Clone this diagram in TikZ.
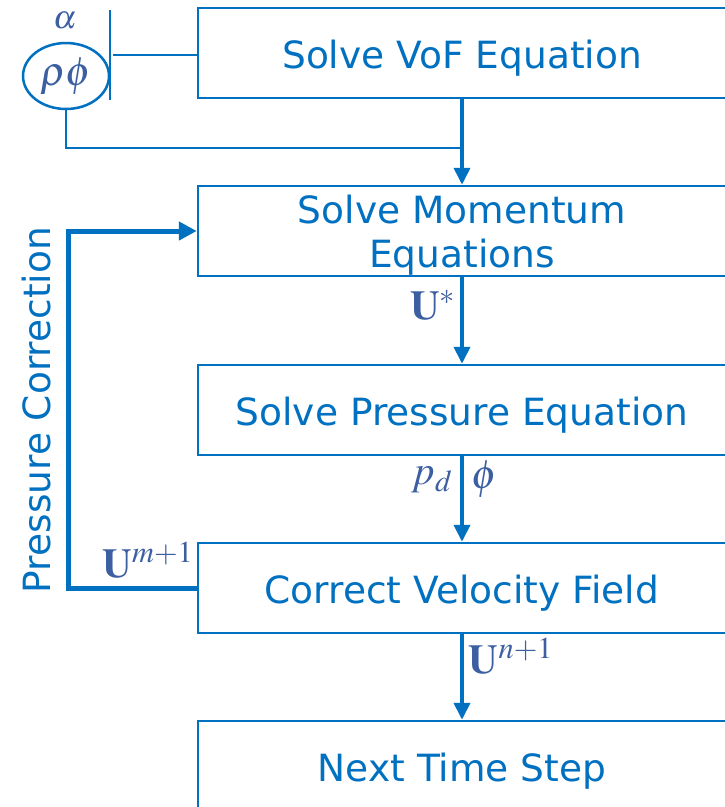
\documentclass[tikz,border=0pt]{standalone}
\usepackage{mathptmx}
\usepackage[no-math]{fontspec}
\setmainfont{DejaVu Sans}
\usetikzlibrary{arrows.meta,shapes.geometric}
\definecolor{boxblue}{HTML}{0070C0}
\definecolor{mathblue}{HTML}{3C5FA2}
\begin{document}
\begin{tikzpicture}[x=1pt,y=-1pt,
  stepbox/.style={draw=boxblue,line width=2.5pt,rectangle,minimum width=528pt,minimum height=90pt,inner sep=0pt},
  steptext/.style={text=boxblue,font=\fontsize{37.5}{44}\selectfont,align=center,inner sep=0pt},
  mlabel/.style={text=mathblue,font=\fontsize{41}{48}\selectfont,inner sep=0pt},
  arr/.style={draw=boxblue,line width=3.8pt,-{Triangle[width=16pt,length=17pt]}},
  thin/.style={draw=boxblue,line width=2.5pt},
  fbline/.style={draw=boxblue,line width=5pt,-{Triangle[width=18pt,length=18pt]}}]
\clip (0,0) rectangle (725,807);
\fill[white] (0,0) rectangle (725,807);
% boxes
\node[stepbox] (b1) at (462,53) {};
\node[stepbox] (b2) at (462,231) {};
\node[stepbox] (b3) at (462,410) {};
\node[stepbox] (b4) at (462,588) {};
\node[stepbox] (b5) at (462,766) {};
\node[steptext] (t1) at ([yshift=-5pt]b1.center) {Solve VoF Equation};
\node[steptext] (t2) at ([yshift=-4pt]b2.center) {Solve Momentum\\Equations};
\node[steptext] (t3) at ([yshift=-5pt]b3.center) {Solve Pressure Equation};
\node[steptext] (t4) at ([yshift=-5pt]b4.center) {Correct Velocity Field};
\node[steptext] (t5) at ([yshift=-5pt]b5.center) {Next Time Step};
% top-left group
\node[draw=boxblue,line width=2.5pt,ellipse,minimum width=86pt,minimum height=66pt,inner sep=0pt,
  text=mathblue,font=\fontsize{41}{48}\selectfont] (el) at (66,76) {$\rho\phi$};
\node[text=mathblue,font=\fontsize{33}{40}\selectfont,inner sep=0pt,text height=18pt,text depth=0pt] (al) at (65,19) {$\alpha$};
\coordinate (bt) at (110,10);
\coordinate (bb) at (110,100);
\draw[thin] (bt) -- (bb);
\coordinate (hs) at (113,55);
\draw[thin] (hs) -- (b1.west |- hs);
\coordinate (j) at (462,148);
\draw[thin] (el.south) |- (j);
% main arrows
\draw[arr] (b1.south) -- (b2.north);
\draw[arr] (b2.south) -- (b3.north);
\draw[arr] (b3.south) -- (b4.north);
\draw[arr] (b4.south) -- (b5.north);
% feedback loop
\coordinate (fc) at (68.5,588);
\draw[fbline] (b4.west) -- (fc) |- (b2.west);
\node[rotate=90,text=boxblue,font=\fontsize{37.5}{44}\selectfont,inner sep=0pt] (pc) at (37,410) {Pressure Correction};
% labels
\node[mlabel] (lu) at (433,305) {$\mathbf{U}^{*}$};
\node[mlabel] (lp) at (432,480) {$p_d$};
\node[mlabel] (lphi) at (484,479) {$\phi$};
\node[mlabel] (lm) at (148,560) {$\mathbf{U}^{m+1}$};
\node[mlabel] (ln) at (511,656) {$\mathbf{U}^{n+1}$};
\end{tikzpicture}
\end{document}
